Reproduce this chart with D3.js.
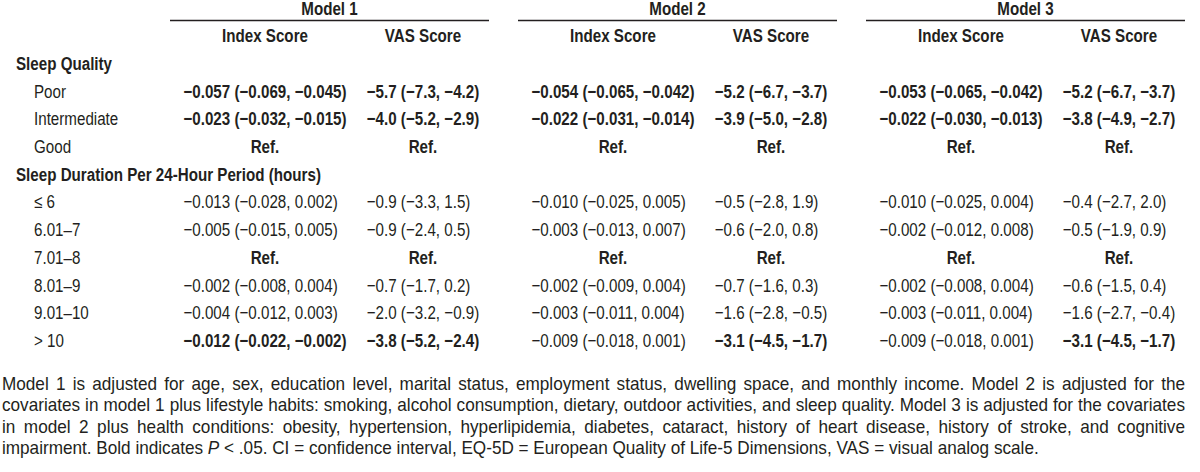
<!DOCTYPE html>
<html><head><meta charset="utf-8">
<script src="https://cdn.jsdelivr.net/npm/d3@7"></script>
<style>
html,body{margin:0;padding:0;background:#fff;}
svg{display:block;}
</style></head>
<body>
<svg id="chart" width="1200" height="472"></svg>
<script>
// ---------- data ----------
const models = ["Model 1", "Model 2", "Model 3"];
const measures = ["Index Score", "VAS Score"];
const sections = ["Sleep Quality", "Sleep Duration Per 24-Hour Period (hours)"];
const qualityLevels = ["Poor", "Intermediate", "Good"];
const durationLevels = ["≤ 6", "6.01–7", "7.01–8", "8.01–9", "9.01–10", "> 10"];

// [estimate, lower CI, upper CI]; null = reference category
const m1Index = [[-0.057,-0.069,-0.045],[-0.023,-0.032,-0.015],null,[-0.013,-0.028,0.002],[-0.005,-0.015,0.005],null,[-0.002,-0.008,0.004],[-0.004,-0.012,0.003],[-0.012,-0.022,-0.002]];
const m1Vas   = [[-5.7,-7.3,-4.2],[-4.0,-5.2,-2.9],null,[-0.9,-3.3,1.5],[-0.9,-2.4,0.5],null,[-0.7,-1.7,0.2],[-2.0,-3.2,-0.9],[-3.8,-5.2,-2.4]];
const m2Index = [[-0.054,-0.065,-0.042],[-0.022,-0.031,-0.014],null,[-0.010,-0.025,0.005],[-0.003,-0.013,0.007],null,[-0.002,-0.009,0.004],[-0.003,-0.011,0.004],[-0.009,-0.018,0.001]];
const m2Vas   = [[-5.2,-6.7,-3.7],[-3.9,-5.0,-2.8],null,[-0.5,-2.8,1.9],[-0.6,-2.0,0.8],null,[-0.7,-1.6,0.3],[-1.6,-2.8,-0.5],[-3.1,-4.5,-1.7]];
const m3Index = [[-0.053,-0.065,-0.042],[-0.022,-0.030,-0.013],null,[-0.010,-0.025,0.004],[-0.002,-0.012,0.008],null,[-0.002,-0.008,0.004],[-0.003,-0.011,0.004],[-0.009,-0.018,0.001]];
const m3Vas   = [[-5.2,-6.7,-3.7],[-3.8,-4.9,-2.7],null,[-0.4,-2.7,2.0],[-0.5,-1.9,0.9],null,[-0.6,-1.5,0.4],[-1.6,-2.7,-0.4],[-3.1,-4.5,-1.7]];

// bold = P < .05
const m1IndexBold = [1,1,0,0,0,0,0,0,1];
const m1VasBold   = [1,1,0,0,0,0,0,0,1];
const m2IndexBold = [1,1,0,0,0,0,0,0,0];
const m2VasBold   = [1,1,0,0,0,0,0,0,1];
const m3IndexBold = [1,1,0,0,0,0,0,0,0];
const m3VasBold   = [1,1,0,0,0,0,0,0,1];

const footnoteLines = [
  "Model 1 is adjusted for age, sex, education level, marital status, employment status, dwelling space, and monthly income. Model 2 is adjusted for the",
  "covariates in model 1 plus lifestyle habits: smoking, alcohol consumption, dietary, outdoor activities, and sleep quality. Model 3 is adjusted for the covariates",
  "in model 2 plus health conditions: obesity, hypertension, hyperlipidemia, diabetes, cataract, history of heart disease, history of stroke, and cognitive",
  "impairment. Bold indicates P < .05. CI = confidence interval, EQ-5D = European Quality of Life-5 Dimensions, VAS = visual analog scale."
];

// ---------- rendering ----------
const INK = "#231f20";
const FS = 18.5;
const svg = d3.select("#chart");

// detect narrow font
const probe = svg.append("text").attr("font-size", 100).text("Index Score 0123456789")
  .attr("font-family", "'Liberation Sans Narrow', 'Liberation Sans'");
const wN = probe.node().getComputedTextLength();
probe.attr("font-family", "'Liberation Sans'");
const wR = probe.node().getComputedTextLength();
probe.remove();
const narrow = wN < wR * 0.9;
const sx = narrow ? 1 : 0.82;
const family = narrow ? "'Liberation Sans Narrow', 'Arial Narrow', sans-serif" : "'Liberation Sans', Arial, sans-serif";
const X = v => v / sx;

const g = svg.append("g").attr("transform", `scale(${sx},1)`)
  .attr("font-family", family).attr("font-size", FS).attr("fill", INK);

function txt(str, x, y, opts = {}) {
  const t = g.append("text").attr("x", X(x)).attr("y", y).text(str)
    .attr("font-weight", opts.bold ? "bold" : "normal")
    .attr("text-anchor", opts.anchor || "start");
  if (opts.italic) t.attr("font-style", "italic");
  return t;
}
function width(sel) { return sel.node().getComputedTextLength() * sx; }

// scales
const xModel = d3.scaleBand().domain(models).range([170, 1185]).paddingInner(29 / 348).paddingOuter(0);
const xMeasure = d3.scalePoint().domain(measures).range([95, 253]);
const rowY = d3.scaleLinear().domain([0, 10]).range([70, 347]);

// header
models.forEach(m => {
  const x0 = xModel(m);
  txt(m, x0 + xModel.bandwidth() / 2, 15, {bold: true, anchor: "middle"});
  g.append("line").attr("x1", X(x0)).attr("x2", X(x0 + xModel.bandwidth()))
    .attr("y1", 20.5).attr("y2", 20.5).attr("stroke", INK).attr("stroke-width", 1.5);
  measures.forEach(ms => txt(ms, x0 + xMeasure(ms), 42, {bold: true, anchor: "middle"}));
});

// row layout
const rows = [];
rows.push({kind: "section", label: sections[0]});
qualityLevels.forEach(l => rows.push({kind: "level", label: l}));
rows.push({kind: "section", label: sections[1]});
durationLevels.forEach(l => rows.push({kind: "level", label: l}));
let k = 0;
rows.forEach((r, i) => { r.y = rowY(i); if (r.kind === "level") r.di = k++; });

rows.forEach(r => {
  if (r.kind === "section") txt(r.label, 16, r.y, {bold: true});
  else txt(r.label, 34, r.y);
});

const fmt3 = d3.format(".3f"), fmt1 = d3.format(".1f");
const columns = [
  {model: models[0], measure: measures[0], data: m1Index, bold: m1IndexBold, f: fmt3},
  {model: models[0], measure: measures[1], data: m1Vas,   bold: m1VasBold,   f: fmt1},
  {model: models[1], measure: measures[0], data: m2Index, bold: m2IndexBold, f: fmt3},
  {model: models[1], measure: measures[1], data: m2Vas,   bold: m2VasBold,   f: fmt1},
  {model: models[2], measure: measures[0], data: m3Index, bold: m3IndexBold, f: fmt3},
  {model: models[2], measure: measures[1], data: m3Vas,   bold: m3VasBold,   f: fmt1}
];

columns.forEach(c => {
  const cx = xModel(c.model) + xMeasure(c.measure);
  const levelRows = rows.filter(r => r.kind === "level");
  const cells = levelRows.map(r => {
    const d = c.data[r.di];
    if (d === null) return txt("Ref.", cx, r.y, {bold: true, anchor: "middle"});
    return txt(`${c.f(d[0])} (${c.f(d[1])}, ${c.f(d[2])})`, cx, r.y, {bold: !!c.bold[r.di]});
  });
  const valueCells = cells.filter((s, i) => c.data[levelRows[i].di] !== null);
  const maxW = d3.max(valueCells, width);
  const left = cx - maxW / 2;
  valueCells.forEach(s => s.attr("x", X(left)));
});

// footnote: same height as table text, horizontally fitted so the fullest line just fits, justified
const fnLeft = 2, fnRight = 1185;
const FFS = 18.5;
const fMeas = svg.append("text").attr("font-family", "'Liberation Sans', Arial, sans-serif").attr("font-size", FFS);
const naturals = footnoteLines.slice(0, 3).map(l => { fMeas.text(l); return fMeas.node().getComputedTextLength(); });
fMeas.remove();
const fx = Math.min(1, (fnRight - fnLeft - 4) / d3.max(naturals));
const fg = svg.append("g").attr("transform", `scale(${fx},1)`)
  .attr("font-family", "'Liberation Sans', Arial, sans-serif").attr("font-size", FFS).attr("fill", INK);
const fnY = d3.scaleLinear().domain([0, 3]).range([390, 454.5]);

footnoteLines.forEach((line, li) => {
  const words = line.split(" ");
  const y = fnY(li);
  const nodes = words.map(w => {
    const t = fg.append("text").attr("x", 0).attr("y", y).text(w);
    if (w === "P") t.attr("font-style", "italic");
    return t;
  });
  const ws = nodes.map(n => n.node().getComputedTextLength() * fx);
  const justify = li < footnoteLines.length - 1;
  let gap;
  if (justify) gap = (fnRight - fnLeft - d3.sum(ws)) / (words.length - 1);
  else {
    const a = fg.append("text").text("a a"), b = fg.append("text").text("aa");
    gap = (a.node().getComputedTextLength() - b.node().getComputedTextLength()) * fx;
    a.remove(); b.remove();
  }
  let x = fnLeft;
  nodes.forEach((n, i) => { n.attr("x", x / fx); x += ws[i] + gap; });
});
</script>
</body></html>
